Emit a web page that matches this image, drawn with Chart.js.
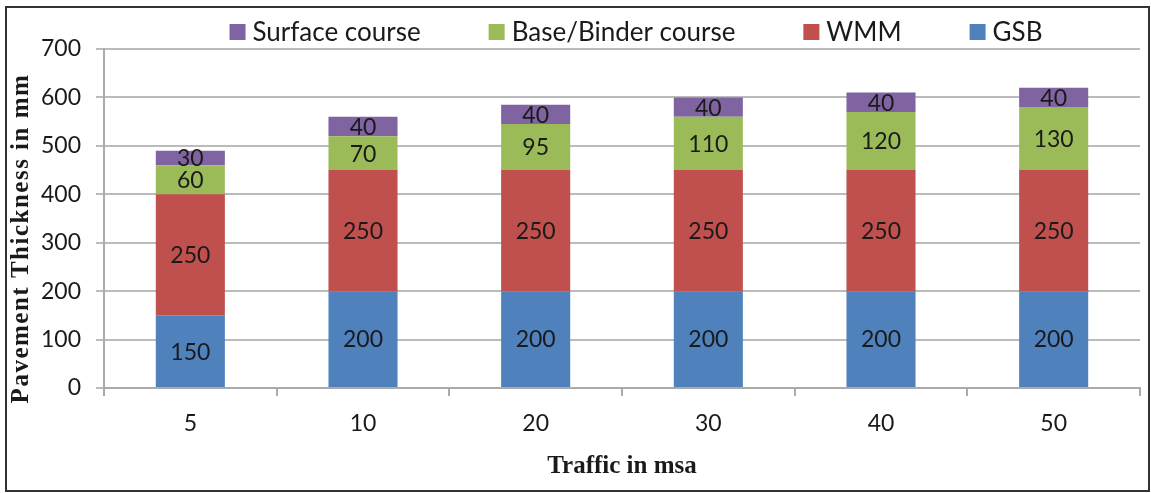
<!DOCTYPE html>
<html>
<head>
<meta charset="utf-8">
<script src="https://cdn.jsdelivr.net/npm/chart.js@4"></script>
<style>
  html, body { margin: 0; padding: 0; background: #fff; }
  #box { position: absolute; left: 5px; top: 6px; width: 1141px; height: 482px; border: 2px solid #333; }
  #wrap { position: absolute; left: 0; top: 0; width: 1141px; height: 482px; }
</style>
</head>
<body>
<div id="box"><div id="wrap"><canvas id="pavementChart"></canvas></div></div>
<script>
const traffic = ["5", "10", "20", "30", "40", "50"];
const gsb = [150, 200, 200, 200, 200, 200];
const wmm = [250, 250, 250, 250, 250, 250];
const binder = [60, 70, 95, 110, 120, 130];
const surface = [30, 40, 40, 40, 40, 40];

const FONT = "Lato, 'Open Sans', sans-serif";
const SERIF = "'Liberation Serif', 'Times New Roman', serif";

// draws the value in the middle of each segment
const segmentLabels = {
  id: "segmentLabels",
  afterDatasetsDraw(chart) {
    const c = chart.ctx;
    c.save();
    c.font = "23px " + FONT;
    c.fillStyle = "#1a1a1a";
    c.textAlign = "center";
    c.textBaseline = "middle";
    chart.data.datasets.forEach((ds, i) => {
      chart.getDatasetMeta(i).data.forEach((bar, j) => {
        const p = bar.getProps(["x", "y", "base"], true);
        c.fillText(ds.data[j], p.x, (p.y + p.base) / 2 + 1);
      });
    });
    c.restore();
  }
};

// legend spread out like the excel one, plus the spaced out y title
const topLegend = {
  id: "topLegend",
  afterDraw(chart) {
    const c = chart.ctx;
    const items = chart.data.datasets.slice().reverse();
    c.save();
    c.font = "26px " + FONT;
    c.textBaseline = "middle";
    const box = 16, gap = 7, space = 68;
    let total = 0;
    items.forEach((d, i) => {
      total += box + gap + c.measureText(d.label).width + (i < items.length - 1 ? space : 0);
    });
    let x = (chart.chartArea.left + chart.chartArea.right) / 2 + 14 - total / 2;
    const y = 24;
    items.forEach(d => {
      c.fillStyle = d.backgroundColor;
      c.fillRect(x, y - box / 2, box, box);
      x += box + gap;
      c.fillStyle = "#1a1a1a";
      c.fillText(d.label, x, y + 1);
      x += c.measureText(d.label).width + space;
    });

    c.font = "bold 25px " + SERIF;
    c.letterSpacing = "1.5px";
    c.textAlign = "center";
    c.translate(15, (chart.chartArea.top + chart.chartArea.bottom) / 2 + 20);
    c.rotate(-Math.PI / 2);
    c.fillText("Pavement Thickness in mm", 0, 0);
    c.restore();
  }
};

const ctx = document.getElementById("pavementChart");

// eslint-disable-next-line no-unused-vars
const myChart = new Chart(ctx, {
  type: "bar",
  data: {
    labels: traffic,
    datasets: [
      { label: "GSB", data: gsb, backgroundColor: "#4F81BD" },
      { label: "WMM", data: wmm, backgroundColor: "#C0504D" },
      { label: "Base/Binder course", data: binder, backgroundColor: "#9BBB59" },
      { label: "Surface course", data: surface, backgroundColor: "#8064A2" }
    ]
  },
  options: {
    responsive: true,
    maintainAspectRatio: false,
    animation: false,
    datasets: { bar: { barPercentage: 0.4, categoryPercentage: 1.0 } },
    layout: { padding: { left: 0, right: 8, top: 41, bottom: 8 } },
    plugins: {
      tooltip: { enabled: false },
      legend: { display: false }
    },
    scales: {
      x: {
        stacked: true,
        afterFit(scale) { scale.height = 94; },
        grid: { drawOnChartArea: false, drawTicks: true, tickLength: 8, color: "#aaa", lineWidth: 2 },
        border: { color: "#aaa", width: 2 },
        ticks: { font: { family: FONT, size: 23 }, color: "#1a1a1a", padding: 14 },
        title: {
          display: true,
          text: "Traffic in msa",
          font: { family: SERIF, size: 25, weight: "bold" },
          color: "#1a1a1a",
          padding: { top: 16, bottom: 0 }
        }
      },
      y: {
        stacked: true,
        min: 0,
        max: 700,
        afterFit(scale) { scale.width = 97; },
        ticks: { stepSize: 100, font: { family: FONT, size: 23 }, color: "#1a1a1a", padding: 15 },
        grid: { color: "#bbb", lineWidth: 2, tickLength: 8 },
        border: { color: "#aaa", width: 2 }
      }
    }
  },
  plugins: [segmentLabels, topLegend]
});
</script>
</body>
</html>
